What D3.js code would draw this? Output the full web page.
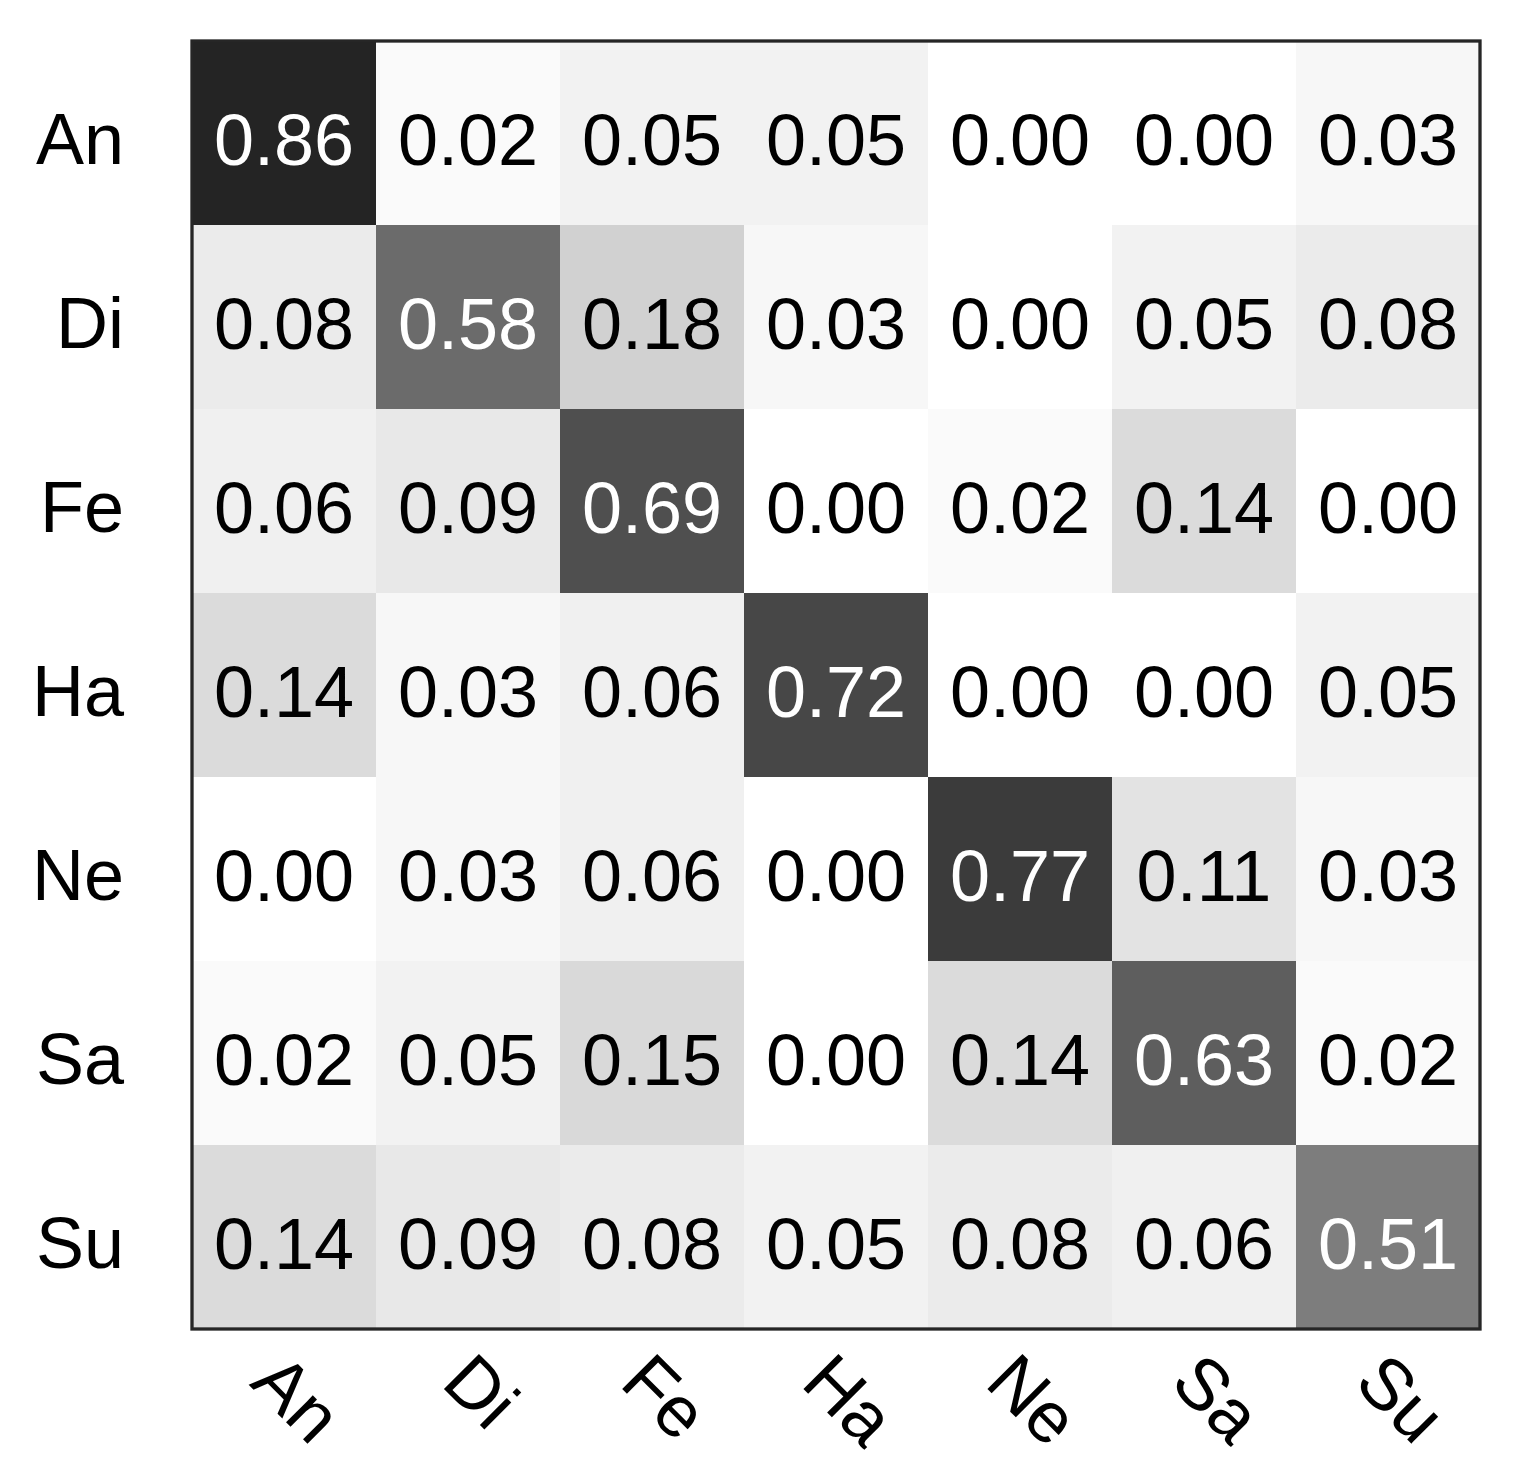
<!DOCTYPE html>
<html>
<head>
<meta charset="utf-8">
<script src="https://cdn.jsdelivr.net/npm/d3@7"></script>
<style>
  html, body { margin: 0; padding: 0; background: #ffffff; }
  svg { display: block; }
  text { font-family: "Liberation Sans", Arial, Helvetica, sans-serif; }
</style>
</head>
<body>
<svg id="chart" width="1524" height="1467"></svg>
<script>
// ---- data ----
const rowLabels = ["An", "Di", "Fe", "Ha", "Ne", "Sa", "Su"];
const colLabels = ["An", "Di", "Fe", "Ha", "Ne", "Sa", "Su"];
const rowAn = [0.86, 0.02, 0.05, 0.05, 0.00, 0.00, 0.03];
const rowDi = [0.08, 0.58, 0.18, 0.03, 0.00, 0.05, 0.08];
const rowFe = [0.06, 0.09, 0.69, 0.00, 0.02, 0.14, 0.00];
const rowHa = [0.14, 0.03, 0.06, 0.72, 0.00, 0.00, 0.05];
const rowNe = [0.00, 0.03, 0.06, 0.00, 0.77, 0.11, 0.03];
const rowSa = [0.02, 0.05, 0.15, 0.00, 0.14, 0.63, 0.02];
const rowSu = [0.14, 0.09, 0.08, 0.05, 0.08, 0.06, 0.51];
const matrix = [rowAn, rowDi, rowFe, rowHa, rowNe, rowSa, rowSu];

// ---- layout ----
const plotLeft = 192, plotTop = 41, plotSize = 1288;
const svg = d3.select("#chart");

const x = d3.scaleBand().domain(colLabels).range([plotLeft, plotLeft + plotSize]);
const y = d3.scaleBand().domain(rowLabels).range([plotTop, plotTop + plotSize]);
const color = d3.scaleLinear().domain([0, 1]).range(["#ffffff", "#000000"]).interpolate(d3.interpolateRgb);

const cells = [];
matrix.forEach((row, i) => row.forEach((v, j) => cells.push({ r: rowLabels[i], c: colLabels[j], v })));

svg.append("g").selectAll("rect").data(cells).join("rect")
  .attr("x", d => x(d.c))
  .attr("y", d => y(d.r))
  .attr("width", x.bandwidth() + 0.5)
  .attr("height", y.bandwidth() + 0.5)
  .attr("fill", d => color(d.v))
  .attr("shape-rendering", "crispEdges");

svg.append("g").selectAll("text").data(cells).join("text")
  .attr("x", d => x(d.c) + x.bandwidth() / 2)
  .attr("y", d => y(d.r) + y.bandwidth() / 2)
  .attr("dy", "0.44em")
  .attr("text-anchor", "middle")
  .attr("font-size", 72)
  .attr("fill", d => d.v > 0.5 ? "#ffffff" : "#000000")
  .text(d => d.v.toFixed(2));

// frame
svg.append("rect")
  .attr("x", plotLeft).attr("y", plotTop)
  .attr("width", plotSize).attr("height", plotSize)
  .attr("fill", "none")
  .attr("stroke", "#262626")
  .attr("stroke-width", 3.3);

// y axis labels
svg.append("g").selectAll("text").data(rowLabels).join("text")
  .attr("x", 124)
  .attr("y", d => y(d) + y.bandwidth() / 2)
  .attr("dy", "0.43em")
  .attr("text-anchor", "end")
  .attr("font-size", 72)
  .attr("fill", "#000")
  .text(d => d);

// x axis labels, rotated 45deg clockwise
const xl = svg.append("g").selectAll("text").data(colLabels).join("text")
  .attr("text-anchor", "middle")
  .attr("dy", "0.36em")
  .attr("font-size", 72)
  .attr("fill", "#000")
  .text(d => d);
xl.each(function(d) {
  const w = this.getComputedTextLength();
  const h = 52;
  const half = (w + h) / (2 * Math.SQRT2);
  const cx = x(d) + x.bandwidth() / 2 + 14;
  const cy = 1348 + half;
  d3.select(this).attr("transform", `translate(${cx},${cy}) rotate(45)`);
});
</script>
</body>
</html>
